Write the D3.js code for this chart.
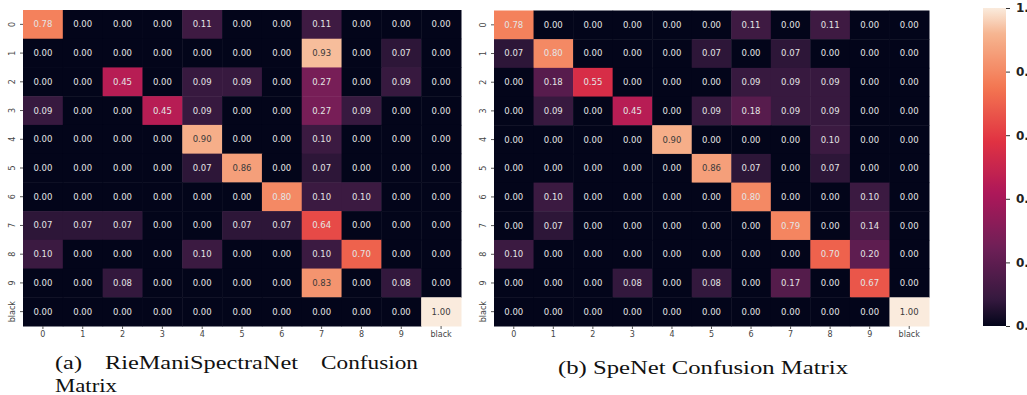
<!DOCTYPE html>
<html>
<head>
<meta charset="utf-8">
<script src="https://cdn.jsdelivr.net/npm/d3@7"></script>
<style>
    body { margin: 0; background: #fff; overflow: hidden; }
    svg { display: block; }
</style>
</head>
<body>
<svg id="chart" width="1027" height="395"></svg>
<script>
// 类别标签
const labels = ["0", "1", "2", "3", "4", "5", "6", "7", "8", "9", "black"];

// (a) RieManiSpectraNet 混淆矩阵
const matrixA = [
    [0.78, 0.00, 0.00, 0.00, 0.11, 0.00, 0.00, 0.11, 0.00, 0.00, 0.00],
    [0.00, 0.00, 0.00, 0.00, 0.00, 0.00, 0.00, 0.93, 0.00, 0.07, 0.00],
    [0.00, 0.00, 0.45, 0.00, 0.09, 0.09, 0.00, 0.27, 0.00, 0.09, 0.00],
    [0.09, 0.00, 0.00, 0.45, 0.09, 0.00, 0.00, 0.27, 0.09, 0.00, 0.00],
    [0.00, 0.00, 0.00, 0.00, 0.90, 0.00, 0.00, 0.10, 0.00, 0.00, 0.00],
    [0.00, 0.00, 0.00, 0.00, 0.07, 0.86, 0.00, 0.07, 0.00, 0.00, 0.00],
    [0.00, 0.00, 0.00, 0.00, 0.00, 0.00, 0.80, 0.10, 0.10, 0.00, 0.00],
    [0.07, 0.07, 0.07, 0.00, 0.00, 0.07, 0.07, 0.64, 0.00, 0.00, 0.00],
    [0.10, 0.00, 0.00, 0.00, 0.10, 0.00, 0.00, 0.10, 0.70, 0.00, 0.00],
    [0.00, 0.00, 0.08, 0.00, 0.00, 0.00, 0.00, 0.83, 0.00, 0.08, 0.00],
    [0.00, 0.00, 0.00, 0.00, 0.00, 0.00, 0.00, 0.00, 0.00, 0.00, 1.00]
];

// (b) SpeNet 混淆矩阵
const matrixB = [
    [0.78, 0.00, 0.00, 0.00, 0.00, 0.00, 0.11, 0.00, 0.11, 0.00, 0.00],
    [0.07, 0.80, 0.00, 0.00, 0.00, 0.07, 0.00, 0.07, 0.00, 0.00, 0.00],
    [0.00, 0.18, 0.55, 0.00, 0.00, 0.00, 0.09, 0.09, 0.09, 0.00, 0.00],
    [0.00, 0.09, 0.00, 0.45, 0.00, 0.09, 0.18, 0.09, 0.09, 0.00, 0.00],
    [0.00, 0.00, 0.00, 0.00, 0.90, 0.00, 0.00, 0.00, 0.10, 0.00, 0.00],
    [0.00, 0.00, 0.00, 0.00, 0.00, 0.86, 0.07, 0.00, 0.07, 0.00, 0.00],
    [0.00, 0.10, 0.00, 0.00, 0.00, 0.00, 0.80, 0.00, 0.00, 0.10, 0.00],
    [0.00, 0.07, 0.00, 0.00, 0.00, 0.00, 0.00, 0.79, 0.00, 0.14, 0.00],
    [0.10, 0.00, 0.00, 0.00, 0.00, 0.00, 0.00, 0.00, 0.70, 0.20, 0.00],
    [0.00, 0.00, 0.00, 0.08, 0.00, 0.08, 0.00, 0.17, 0.00, 0.67, 0.00],
    [0.00, 0.00, 0.00, 0.00, 0.00, 0.00, 0.00, 0.00, 0.00, 0.00, 1.00]
];

// 色条刻度
const colorbarTicks = [0, 0.2, 0.4, 0.6, 0.8, 1.0];

// seaborn "rocket" 色图的近似节点
const rocketStops = [0, 1 / 12, 3 / 12, 5 / 12, 7 / 12, 9 / 12, 11 / 12, 1];
const rocketColors = ["#03051a", "#35193e", "#701f57", "#ad1759", "#e13342", "#f37651", "#f6b48f", "#faebdd"];

const color = d3.scaleLinear()
    .domain(rocketStops)
    .range(rocketColors)
    .interpolate(d3.interpolateRgb)
    .clamp(true);

const svg = d3.select("#chart");

// 根据背景亮度选择文字颜色（与 seaborn 相同的规则）
function textColor(v) {
    const c = d3.rgb(color(v));
    const lin = x => {
        x = x / 255;
        return x <= 0.03928 ? x / 12.92 : Math.pow((x + 0.055) / 1.055, 2.4);
    };
    const lum = 0.2126 * lin(c.r) + 0.7152 * lin(c.g) + 0.0722 * lin(c.b);
    return lum > 0.408 ? "#3a3a3a" : "#e4e4e4";
}

// 绘制一个热力图
function drawHeatmap(matrix, box) {
    const x = d3.scaleBand().domain(labels).range([box.x0, box.x1]);
    const y = d3.scaleBand().domain(labels).range([box.y0, box.y1]);

    const g = svg.append("g");

    const cells = [];
    matrix.forEach((row, i) => {
        row.forEach((v, j) => cells.push({ row: labels[i], col: labels[j], v }));
    });

    g.selectAll("rect")
        .data(cells)
        .enter().append("rect")
        .attr("x", d => x(d.col))
        .attr("y", d => y(d.row))
        .attr("width", x.bandwidth() + 0.5)
        .attr("height", y.bandwidth() + 0.5)
        .attr("fill", d => color(d.v));

    g.selectAll("text.annot")
        .data(cells)
        .enter().append("text")
        .attr("class", "annot")
        .attr("x", d => x(d.col) + x.bandwidth() / 2)
        .attr("y", d => y(d.row) + y.bandwidth() / 2)
        .attr("dy", "0.35em")
        .attr("text-anchor", "middle")
        .attr("font-family", "DejaVu Sans")
        .attr("font-size", 8.5)
        .attr("fill", d => textColor(d.v))
        .text(d => d.v.toFixed(2));

    // x 轴
    const xAxis = svg.append("g")
        .attr("transform", `translate(0,${box.y1})`)
        .call(d3.axisBottom(x).tickSize(3).tickPadding(2));
    xAxis.select(".domain").remove();
    xAxis.selectAll("line").attr("stroke", "#555");
    xAxis.selectAll("text")
        .attr("font-family", "DejaVu Sans")
        .attr("font-size", 8)
        .attr("fill", "#444");

    // y 轴（标签竖排）
    const yAxis = svg.append("g")
        .attr("transform", `translate(${box.x0},0)`)
        .call(d3.axisLeft(y).tickSize(3).tickPadding(2));
    yAxis.select(".domain").remove();
    yAxis.selectAll("line").attr("stroke", "#555");
    yAxis.selectAll("text")
        .attr("font-family", "DejaVu Sans")
        .attr("font-size", 8)
        .attr("fill", "#444")
        .attr("x", 0)
        .attr("dy", 0)
        .attr("text-anchor", "middle")
        .attr("transform", "translate(-8,0) rotate(-90)");
}

drawHeatmap(matrixA, { x0: 23, x1: 461, y0: 10, y1: 326 });
drawHeatmap(matrixB, { x0: 494, x1: 929, y0: 10.5, y1: 326 });

// 色条
const cb = { x: 983, w: 23, y0: 8, y1: 326 };
const defs = svg.append("defs");
const grad = defs.append("linearGradient")
    .attr("id", "rocket-grad")
    .attr("x1", 0).attr("y1", 1)
    .attr("x2", 0).attr("y2", 0);
d3.range(0, 1.0001, 0.02).forEach(t => {
    grad.append("stop")
        .attr("offset", t)
        .attr("stop-color", color(t));
});
svg.append("rect")
    .attr("x", cb.x)
    .attr("y", cb.y0)
    .attr("width", cb.w)
    .attr("height", cb.y1 - cb.y0)
    .attr("fill", "url(#rocket-grad)");

const cbScale = d3.scaleLinear().domain([0, 1]).range([cb.y1, cb.y0]);
const cbAxis = svg.append("g")
    .attr("transform", `translate(${cb.x + cb.w},0)`)
    .call(d3.axisRight(cbScale).tickValues(colorbarTicks).tickFormat(d3.format(".1f")).tickSize(4).tickPadding(6));
cbAxis.select(".domain").remove();
cbAxis.selectAll("line").attr("stroke", "#333");
cbAxis.selectAll("text")
    .attr("font-family", "DejaVu Sans")
    .attr("font-size", 12)
    .attr("font-weight", "bold")
    .attr("fill", "#222");

// 图注
const capFont = "Liberation Serif";
function caption(str, x, y, len, anchor) {
    svg.append("text")
        .attr("x", x)
        .attr("y", y)
        .attr("text-anchor", anchor || "start")
        .attr("font-family", capFont)
        .attr("font-size", 19)
        .attr("fill", "#111")
        .attr("textLength", len)
        .attr("lengthAdjust", "spacingAndGlyphs")
        .text(str);
}

caption("(a)", 55, 369, 27);
caption("RieManiSpectraNet", 105, 369, 193);
caption("Confusion", 321, 369, 97);
caption("Matrix", 55, 392, 62);
caption("(b) SpeNet Confusion Matrix", 558, 374, 290);
</script>
</body>
</html>
